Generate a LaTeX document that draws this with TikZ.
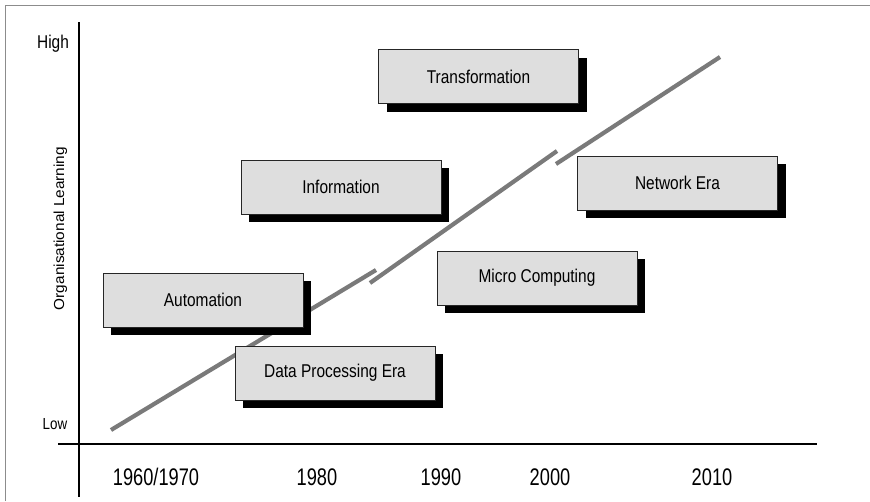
\documentclass[tikz,border=0pt]{standalone}
\usepackage{fontspec}
\setmainfont{Liberation Sans}
\newfontfamily\boxfont[FakeStretch=0.835]{Liberation Sans}
\newfontfamily\yearfont[FakeStretch=0.76]{Liberation Sans}
\newfontfamily\rotfont[FakeStretch=1.06]{Liberation Sans}
\usetikzlibrary{shadows}
\definecolor{boxgray}{HTML}{DEDEDE}
\definecolor{trendgray}{HTML}{7A7A7A}
\definecolor{framegray}{HTML}{8C8C8C}
\tikzset{
  erabox/.style={draw=black!85, line width=0.8pt, fill=boxgray,
    minimum width=200pt, minimum height=54pt, inner sep=0pt,
    font=\boxfont\fontsize{18.5}{20}\selectfont,
    drop shadow={fill=black, opacity=1, shadow xshift=8pt, shadow yshift=-8pt}},
  trend/.style={draw=trendgray, line width=4.2pt},
  axisline/.style={draw=black, line width=1.4pt},
  yearlabel/.style={anchor=base, inner sep=0pt, font=\yearfont\fontsize{24}{26}\selectfont},
  levellabel/.style={anchor=base, inner sep=0pt}
}
\begin{document}
\begin{tikzpicture}[x=1pt,y=-1pt]
\useasboundingbox (0,0) rectangle (870,501);
% frame
\draw[framegray, line width=1.5pt] (5.5,501) -- (5.5,5.5) -- (870,5.5);
% axes
\coordinate (yTop) at (79,22);
\coordinate (yBot) at (79,497);
\coordinate (xL) at (58,444);
\coordinate (xR) at (817,444);
\draw[axisline] (yTop) -- (yBot);
\draw[axisline] (xL) -- (xR);
% trend segments
\coordinate (s1a) at (111,430);
\coordinate (s1b) at (376,270);
\coordinate (s2a) at (370,283);
\coordinate (s2b) at (557,151);
\coordinate (s3a) at (556,164);
\coordinate (s3b) at (720,57);
\draw[trend] (s1a) -- (s1b);
\draw[trend] (s2a) -- (s2b);
\draw[trend] (s3a) -- (s3b);
% boxes
\node[erabox] (trans) at (478.5,76.5) {Transformation};
\node[erabox] (info) at (341,187) {Information};
\node[erabox] (net) at (677.5,183) {Network Era};
\node[erabox] (micro) at (537,278) {Micro Computing};
\node[erabox] (auto) at (203,300) {Automation};
\node[erabox] (dpe) at (335,373) {Data Processing Era};
% axis labels
\node[levellabel, font=\boxfont\fontsize{18.5}{20}\selectfont] (high) at (53,48) {High};
\node[levellabel, font=\boxfont\fontsize{16}{18}\selectfont] (low) at (55,429) {Low};
\node[rotate=90, anchor=base, inner sep=0pt, font=\rotfont\fontsize{14.5}{16}\selectfont] (ylab) at (64,228.5) {Organisational Learning};
\node[yearlabel] (y60) at (156,485) {1960/1970};
\node[yearlabel] (y80) at (317,485) {1980};
\node[yearlabel] (y90) at (441,485) {1990};
\node[yearlabel] (y00) at (550,485) {2000};
\node[yearlabel] (y10) at (712,485) {2010};
\end{tikzpicture}
\end{document}
